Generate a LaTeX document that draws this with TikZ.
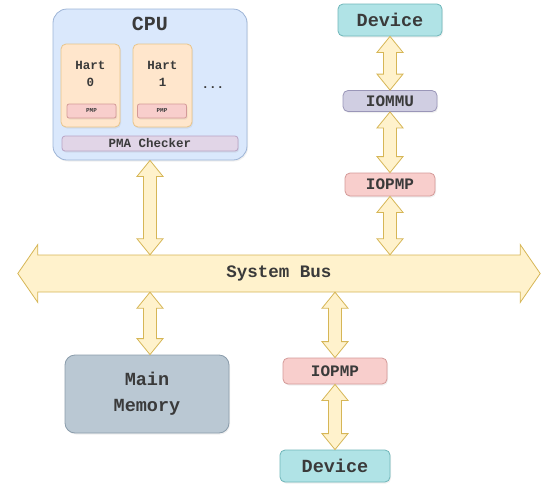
\documentclass[tikz,border=0pt]{standalone}
\usepackage{fontspec}
\setmainfont{Liberation Mono}
\usetikzlibrary{calc,shadows}
\definecolor{bluefill}{HTML}{DAE8FC}\definecolor{bluedraw}{HTML}{9DB4D6}
\definecolor{orfill}{HTML}{FFE6CC}\definecolor{ordraw}{HTML}{E8C48A}
\definecolor{redfill}{HTML}{F8CECC}\definecolor{reddraw}{HTML}{D49A98}
\definecolor{purfill}{HTML}{E1D5E7}\definecolor{purdraw}{HTML}{B9A3C4}
\definecolor{yelfill}{HTML}{FFF2CC}\definecolor{yeldraw}{HTML}{D6B656}
\definecolor{tealfill}{HTML}{B0E3E6}\definecolor{tealdraw}{HTML}{6FB6B9}
\definecolor{mmufill}{HTML}{D0CEE2}\definecolor{mmudraw}{HTML}{9A96B8}
\definecolor{memfill}{HTML}{BAC8D3}\definecolor{memdraw}{HTML}{8A9CAB}
\definecolor{txt}{HTML}{3A3A3A}
\tikzset{
  box/.style={rounded corners=#1, line width=0.8pt, inner sep=0pt,
    drop shadow={opacity=0.12, shadow xshift=1pt, shadow yshift=-1.5pt}},
  box/.default=5pt,
  lbl/.style={text=txt, align=center, inner sep=0pt},
  flex/.style={fill=yelfill, draw=yeldraw, line width=0.8pt, line join=miter}
}
\newcommand\vlink[2]{\path[flex] let \p1=(#1), \p2=(#2) in
  (\x1,\y1) -- (\x1+13pt,\y1-16pt) -- (\x1+6.5pt,\y1-16pt) -- (\x1+6.5pt,\y2+16pt)
  -- (\x1+13pt,\y2+16pt) -- (\x1,\y2) -- (\x1-13pt,\y2+16pt) -- (\x1-6.5pt,\y2+16pt)
  -- (\x1-6.5pt,\y1-16pt) -- (\x1-13pt,\y1-16pt) -- cycle;}
\begin{document}
\begin{tikzpicture}[x=1pt,y=-1pt]
\useasboundingbox (0,0) rectangle (544,485);
% CPU
\node[box=14pt, fill=bluefill, draw=bluedraw, minimum width=194pt, minimum height=151pt] (cpu) at (150,84.5) {};
\node[lbl, font=\fontsize{20}{22}\selectfont\bfseries] (cputxt) at (150,24) {CPU};
\node[box, fill=orfill, draw=ordraw, minimum width=59pt, minimum height=83pt] (hart0) at (90.5,85.5) {};
\node[lbl, font=\fontsize{12.5}{17}\selectfont\bfseries] (hart0t) at (90.5,74) {Hart\\0};
\node[box=2pt, fill=redfill, draw=reddraw, minimum width=49pt, minimum height=14pt] (pmp0) at (91.5,111) {};
\node[lbl, font=\fontsize{6}{7}\selectfont\bfseries] (pmp0t) at (pmp0) {PMP};
\node[box, fill=orfill, draw=ordraw, minimum width=59pt, minimum height=83pt] (hart1) at (162.5,85.5) {};
\node[lbl, font=\fontsize{12.5}{17}\selectfont\bfseries] (hart1t) at (162.5,74) {Hart\\1};
\node[box=2pt, fill=redfill, draw=reddraw, minimum width=49pt, minimum height=14pt] (pmp1) at (162,111) {};
\node[lbl, font=\fontsize{6}{7}\selectfont\bfseries] (pmp1t) at (pmp1) {PMP};
\node[lbl, font=\fontsize{12.5}{14}\selectfont\bfseries] (dots) at (213,88) {...};
\node[box=3pt, fill=purfill, draw=purdraw, minimum width=176pt, minimum height=15pt] (pma) at (150,143.5) {};
\node[lbl, font=\fontsize{12.5}{14}\selectfont\bfseries] (pmat) at (pma) {PMA Checker};
% right top chain
\node[box, fill=tealfill, draw=tealdraw, minimum width=104pt, minimum height=32pt, font=\fontsize{18.5}{20}\selectfont\bfseries, text=txt] (devt) at (390,20) {Device};
\node[box, fill=mmufill, draw=mmudraw, minimum width=94pt, minimum height=21pt, font=\fontsize{16}{18}\selectfont\bfseries, text=txt] (iommu) at (390,101) {IOMMU};
\node[box, fill=redfill, draw=reddraw, minimum width=90pt, minimum height=23pt, font=\fontsize{16}{18}\selectfont\bfseries, text=txt] (iopmpt) at (390,184.5) {IOPMP};
% bus
\node[minimum width=522pt, minimum height=37pt, inner sep=0pt] (bus) at (279,273.5) {};
\path[flex] let \p1=(bus.west), \p2=(bus.east) in
  (\x1,\y1) -- (\x1+20pt,\y1+29pt) -- (\x1+20pt,\y1+18.5pt) -- (\x2-20pt,\y1+18.5pt)
  -- (\x2-20pt,\y1+29pt) -- (\x2,\y1) -- (\x2-20pt,\y1-29pt) -- (\x2-20pt,\y1-18.5pt)
  -- (\x1+20pt,\y1-18.5pt) -- (\x1+20pt,\y1-29pt) -- cycle;
\node[lbl, font=\fontsize{17.5}{20}\selectfont\bfseries] (bust) at (bus) {System Bus};
% bottom
\node[box=10pt, fill=memfill, draw=memdraw, minimum width=164pt, minimum height=78pt, font=\fontsize{18.5}{26}\selectfont\bfseries, text=txt, align=center] (mem) at (147,394) {Main\\Memory};
\node[box, fill=redfill, draw=reddraw, minimum width=104pt, minimum height=26pt, font=\fontsize{16}{18}\selectfont\bfseries, text=txt] (iopmpb) at (335,371) {IOPMP};
\node[box, fill=tealfill, draw=tealdraw, minimum width=110pt, minimum height=32pt, font=\fontsize{18.5}{20}\selectfont\bfseries, text=txt] (devb) at (335,466) {Device};
% links
\vlink{cpu.south}{cpu.south|-bus.north}
\vlink{devt.south}{iommu.north}
\vlink{iommu.south}{iopmpt.north}
\vlink{iopmpt.south}{iopmpt.south|-bus.north}
\vlink{bus.south-|cpu.south}{mem.north-|cpu.south}
\vlink{bus.south-|iopmpb.north}{iopmpb.north}
\vlink{iopmpb.south}{devb.north}
\end{tikzpicture}
\end{document}
